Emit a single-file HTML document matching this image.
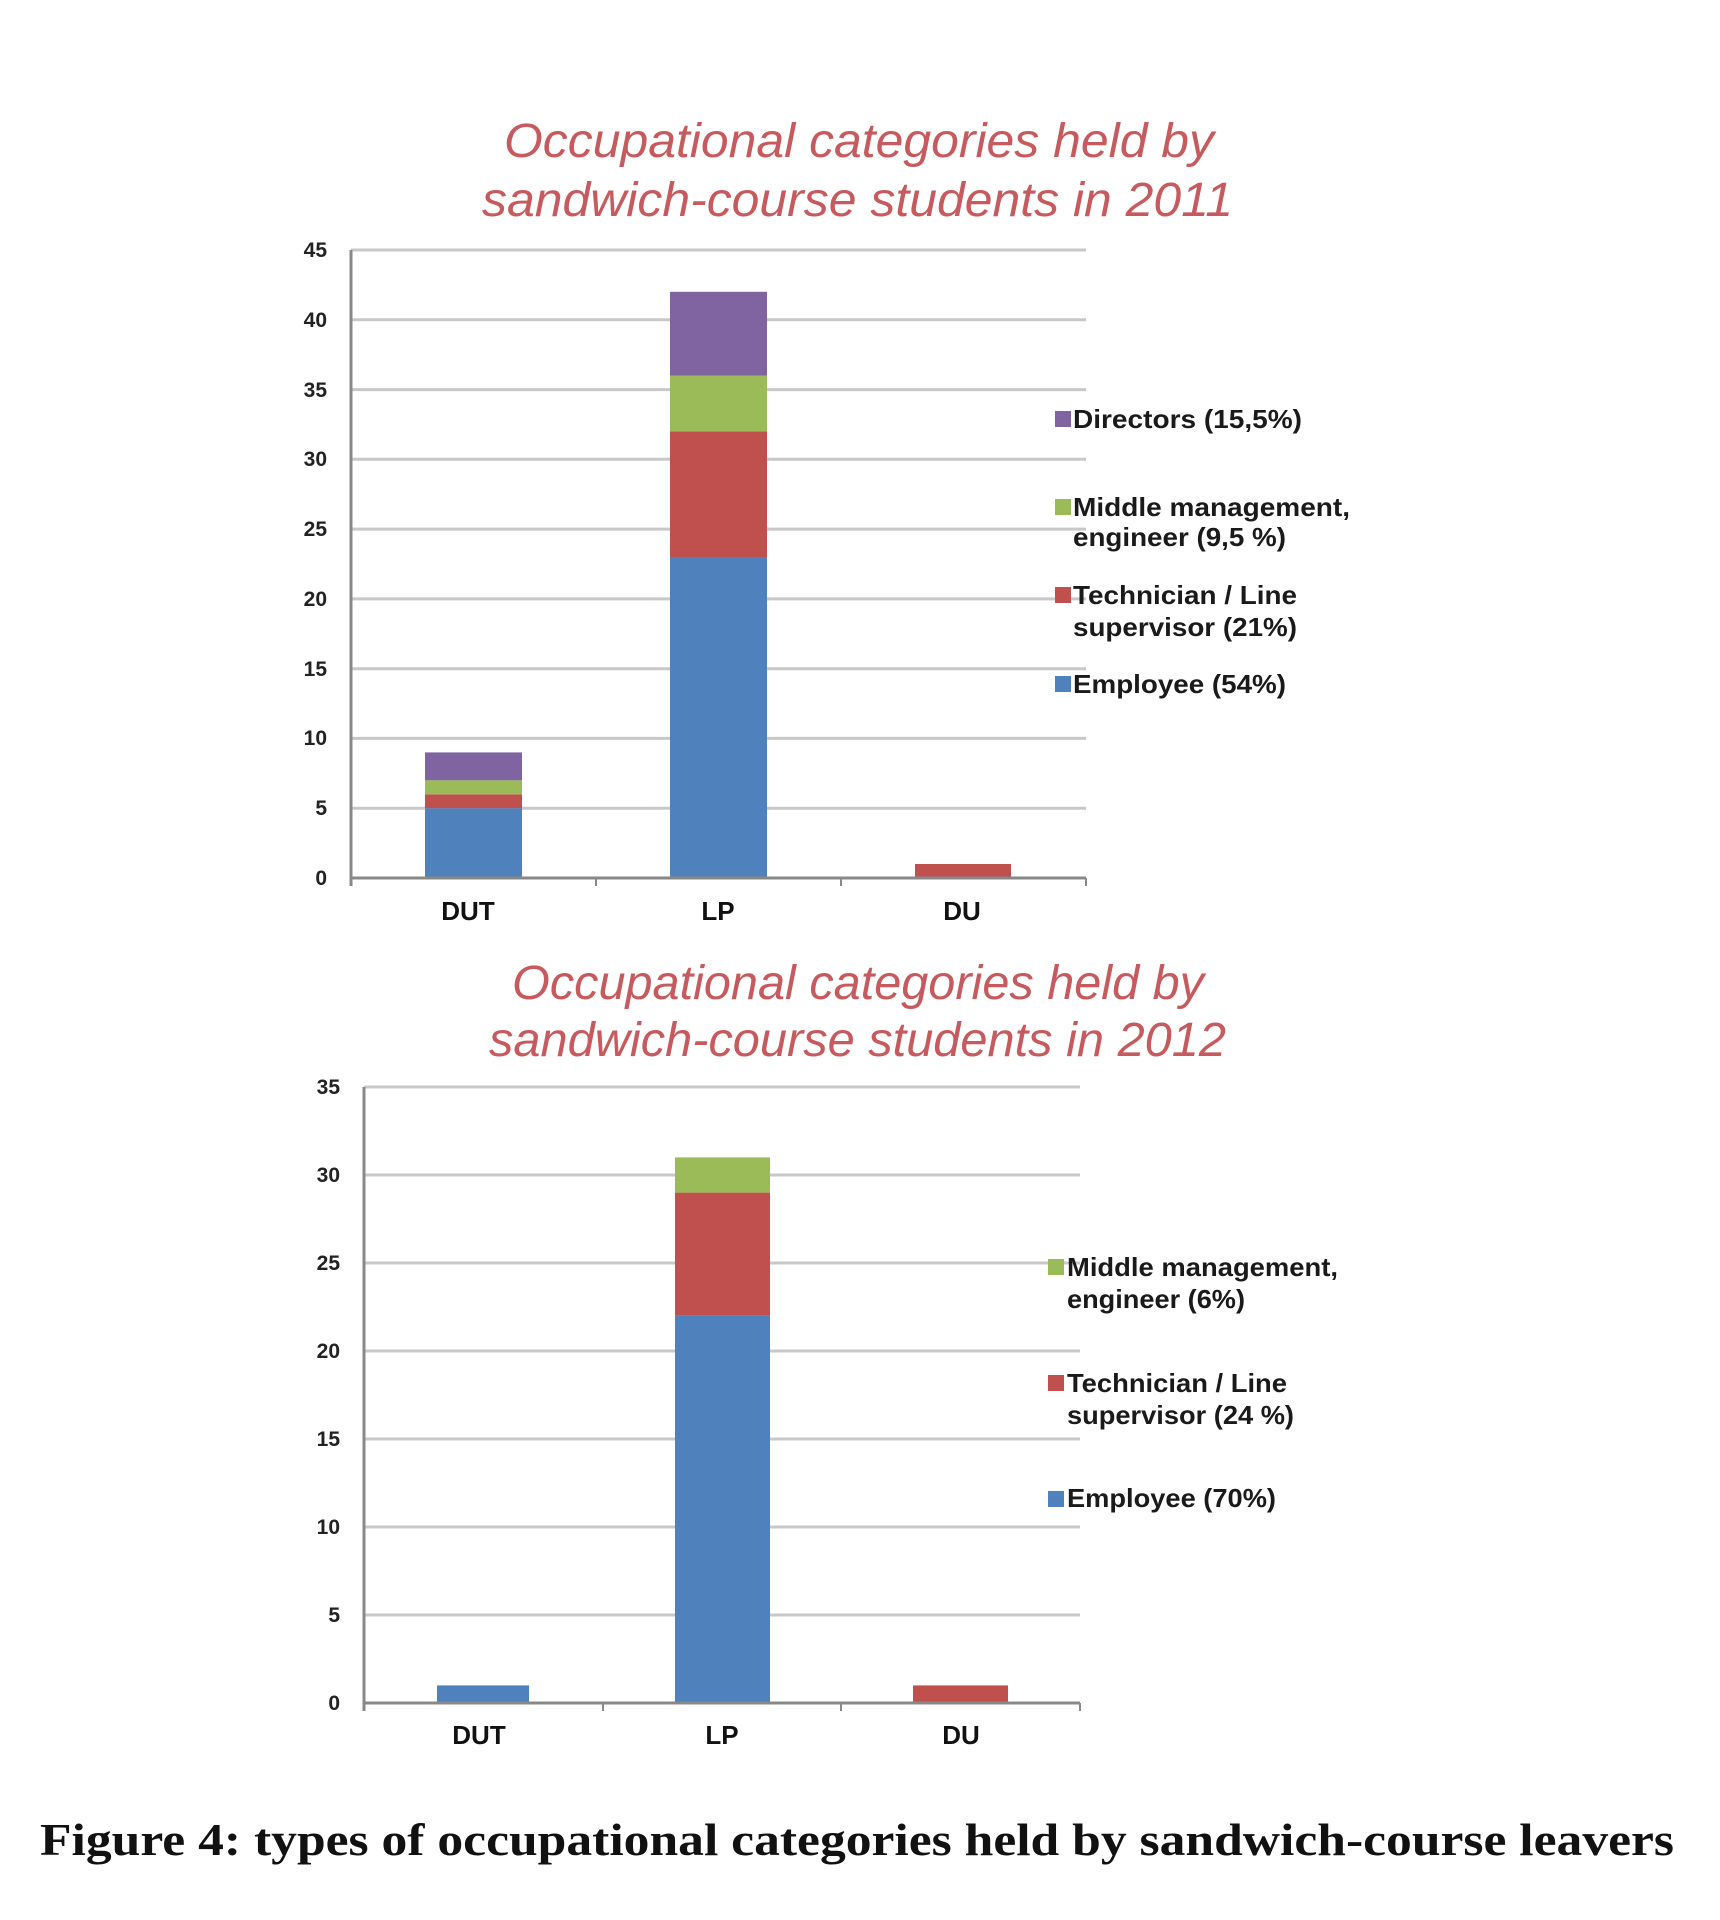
<!DOCTYPE html>
<html><head><meta charset="utf-8"><style>html,body{margin:0;padding:0;background:#fff}svg{display:block}</style></head>
<body>
<svg width="1720" height="1920" xmlns="http://www.w3.org/2000/svg" font-family="Liberation Sans, sans-serif">
<rect width="1720" height="1920" fill="#fff"/>
<!-- Chart 1 -->
<g fill="#c65a5e" font-size="48" font-style="italic" lengthAdjust="spacingAndGlyphs">
<text x="504" y="157" textLength="710" lengthAdjust="spacingAndGlyphs">Occupational categories held by</text>
<text x="482" y="216" textLength="751" lengthAdjust="spacingAndGlyphs">sandwich-course students in 2011</text>
</g>
<g stroke="#c8c8c8" stroke-width="3">
<line x1="351" x2="1086" y1="250" y2="250"/><line x1="351" x2="1086" y1="319.8" y2="319.8"/>
<line x1="351" x2="1086" y1="389.6" y2="389.6"/><line x1="351" x2="1086" y1="459.3" y2="459.3"/>
<line x1="351" x2="1086" y1="529.1" y2="529.1"/><line x1="351" x2="1086" y1="598.9" y2="598.9"/>
<line x1="351" x2="1086" y1="668.7" y2="668.7"/><line x1="351" x2="1086" y1="738.4" y2="738.4"/>
<line x1="351" x2="1086" y1="808.2" y2="808.2"/>
</g>
<g fill="#222" font-size="21" font-weight="bold" text-anchor="end">
<text x="327" y="257">45</text><text x="327" y="327">40</text><text x="327" y="397">35</text>
<text x="327" y="466">30</text><text x="327" y="536">25</text><text x="327" y="606">20</text>
<text x="327" y="676">15</text><text x="327" y="745">10</text><text x="327" y="815">5</text><text x="327" y="885">0</text>
</g>
<rect x="425" y="808.2" width="97" height="69.8" fill="#4f81bd"/>
<rect x="425" y="794.3" width="97" height="13.9" fill="#c0504d"/>
<rect x="425" y="780.3" width="97" height="14" fill="#9bbb59"/>
<rect x="425" y="752.4" width="97" height="27.9" fill="#8064a2"/>
<rect x="670" y="557" width="97" height="321" fill="#4f81bd"/>
<rect x="670" y="431.4" width="97" height="125.6" fill="#c0504d"/>
<rect x="670" y="375.6" width="97" height="55.8" fill="#9bbb59"/>
<rect x="670" y="291.8" width="97" height="83.8" fill="#8064a2"/>
<rect x="915" y="864" width="96" height="14" fill="#c0504d"/>
<line x1="351" y1="250" x2="351" y2="886" stroke="#888" stroke-width="3"/>
<line x1="351" y1="878" x2="1086" y2="878" stroke="#888" stroke-width="3"/>
<g stroke="#888" stroke-width="2"><line x1="596" x2="596" y1="878" y2="886"/><line x1="841" x2="841" y1="878" y2="886"/><line x1="1086" x2="1086" y1="878" y2="886"/></g>
<g fill="#111" font-size="26" font-weight="bold" text-anchor="middle">
<text x="468" y="920">DUT</text><text x="718" y="920">LP</text><text x="962" y="920">DU</text>
</g>
<rect x="1055" y="411" width="16" height="16" fill="#8064a2"/>
<rect x="1055" y="499" width="16" height="16" fill="#9bbb59"/>
<rect x="1055" y="587" width="16" height="16" fill="#c0504d"/>
<rect x="1055" y="676" width="16" height="16" fill="#4f81bd"/>
<g fill="#1a1a1a" font-size="26" font-weight="bold">
<text x="1073" y="428" textLength="229" lengthAdjust="spacingAndGlyphs">Directors (15,5%)</text>
<text x="1073" y="516" textLength="277" lengthAdjust="spacingAndGlyphs">Middle management,</text><text x="1073" y="546" textLength="213" lengthAdjust="spacingAndGlyphs">engineer (9,5 %)</text>
<text x="1073" y="604" textLength="224" lengthAdjust="spacingAndGlyphs">Technician / Line</text><text x="1073" y="636" textLength="224" lengthAdjust="spacingAndGlyphs">supervisor (21%)</text>
<text x="1073" y="693" textLength="213" lengthAdjust="spacingAndGlyphs">Employee (54%)</text>
</g>
<!-- Chart 2 -->
<g fill="#c65a5e" font-size="48" font-style="italic">
<text x="512" y="999" textLength="692" lengthAdjust="spacingAndGlyphs">Occupational categories held by</text>
<text x="489" y="1056" textLength="737" lengthAdjust="spacingAndGlyphs">sandwich-course students in 2012</text>
</g>
<g stroke="#c8c8c8" stroke-width="3">
<line x1="364" x2="1080" y1="1087" y2="1087"/><line x1="364" x2="1080" y1="1175" y2="1175"/>
<line x1="364" x2="1080" y1="1263" y2="1263"/><line x1="364" x2="1080" y1="1351" y2="1351"/>
<line x1="364" x2="1080" y1="1439" y2="1439"/><line x1="364" x2="1080" y1="1527" y2="1527"/>
<line x1="364" x2="1080" y1="1615" y2="1615"/>
</g>
<g fill="#222" font-size="21" font-weight="bold" text-anchor="end">
<text x="340" y="1094">35</text><text x="340" y="1182">30</text><text x="340" y="1270">25</text>
<text x="340" y="1358">20</text><text x="340" y="1446">15</text><text x="340" y="1534">10</text>
<text x="340" y="1622">5</text><text x="340" y="1710">0</text>
</g>
<rect x="437" y="1685.4" width="92" height="17.6" fill="#4f81bd"/>
<rect x="675" y="1315.8" width="95" height="387.2" fill="#4f81bd"/>
<rect x="675" y="1192.6" width="95" height="123.2" fill="#c0504d"/>
<rect x="675" y="1157.4" width="95" height="35.2" fill="#9bbb59"/>
<rect x="913" y="1685.4" width="95" height="17.6" fill="#c0504d"/>
<line x1="364" y1="1087" x2="364" y2="1711" stroke="#888" stroke-width="3"/>
<line x1="364" y1="1703" x2="1080" y2="1703" stroke="#888" stroke-width="3"/>
<g stroke="#888" stroke-width="2"><line x1="603" x2="603" y1="1703" y2="1711"/><line x1="841" x2="841" y1="1703" y2="1711"/><line x1="1080" x2="1080" y1="1703" y2="1711"/></g>
<g fill="#111" font-size="26" font-weight="bold" text-anchor="middle">
<text x="479" y="1744">DUT</text><text x="722" y="1744">LP</text><text x="961" y="1744">DU</text>
</g>
<rect x="1048" y="1259" width="16" height="16" fill="#9bbb59"/>
<rect x="1048" y="1375" width="16" height="16" fill="#c0504d"/>
<rect x="1048" y="1491" width="16" height="16" fill="#4f81bd"/>
<g fill="#1a1a1a" font-size="26" font-weight="bold">
<text x="1067" y="1276" textLength="271" lengthAdjust="spacingAndGlyphs">Middle management,</text><text x="1067" y="1308" textLength="178" lengthAdjust="spacingAndGlyphs">engineer (6%)</text>
<text x="1067" y="1392" textLength="220" lengthAdjust="spacingAndGlyphs">Technician / Line</text><text x="1067" y="1424" textLength="227" lengthAdjust="spacingAndGlyphs">supervisor (24 %)</text>
<text x="1067" y="1507" textLength="209" lengthAdjust="spacingAndGlyphs">Employee (70%)</text>
</g>
<text x="857" y="1855" text-anchor="middle" font-family="Liberation Serif, serif" font-weight="bold" font-size="45" fill="#111" textLength="1634" lengthAdjust="spacingAndGlyphs">Figure 4: types of occupational categories held by sandwich-course leavers</text>
</svg>
</body></html>
